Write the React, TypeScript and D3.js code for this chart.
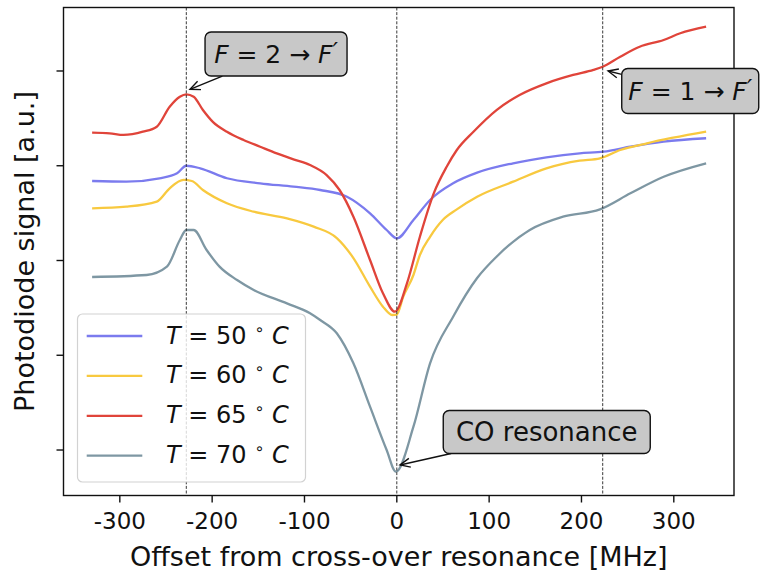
import React from 'react';
import * as d3 from 'd3';

// ---- data (offset in MHz, signal in a.u.) ----
const t50Freq = [-330, -293, -257, -238, -228, -213, -184, -148, -112, -83, -54, -29, -11, 0, 18, 36, 61, 87, 126, 162, 198, 224, 253, 289, 335];
const t50Signal = [3.839, 3.832, 3.868, 3.92, 4.0, 3.973, 3.868, 3.815, 3.779, 3.744, 3.673, 3.498, 3.322, 3.234, 3.427, 3.639, 3.815, 3.927, 4.026, 4.089, 4.131, 4.148, 4.201, 4.254, 4.29];

const t60Freq = [-330, -293, -260, -246, -231, -222, -210, -184, -155, -119, -90, -65, -47, -29, -15, -5, 0, 7, 18, 25, 36, 50, 65, 87, 126, 162, 198, 220, 242, 271, 335];
const t60Signal = [3.551, 3.568, 3.621, 3.762, 3.85, 3.839, 3.744, 3.604, 3.515, 3.445, 3.357, 3.237, 3.026, 2.724, 2.513, 2.425, 2.43, 2.618, 2.847, 3.058, 3.25, 3.43, 3.54, 3.673, 3.832, 3.973, 4.053, 4.079, 4.166, 4.237, 4.359];

const t65Freq = [-330, -311, -296, -275, -260, -246, -235, -228, -220, -210, -199, -184, -166, -148, -130, -112, -94, -76, -62, -47, -29, -15, -2, 11, 25, 40, 54, 65, 83, 108, 133, 162, 191, 213, 223, 242, 263, 289, 307, 335];
const t65Signal = [4.349, 4.342, 4.325, 4.359, 4.412, 4.623, 4.729, 4.754, 4.729, 4.588, 4.46, 4.359, 4.272, 4.201, 4.131, 4.068, 4.008, 3.902, 3.744, 3.462, 3.005, 2.654, 2.46, 2.759, 3.251, 3.709, 3.99, 4.166, 4.359, 4.588, 4.747, 4.87, 4.958, 5.011, 5.045, 5.151, 5.256, 5.327, 5.398, 5.468];

const t70Freq = [-330, -271, -249, -235, -228, -220, -206, -192, -173, -155, -119, -94, -83, -65, -47, -29, -11, -1, 18, 36, 61, 87, 108, 144, 180, 220, 253, 289, 335];
const t70Signal = [2.826, 2.847, 2.935, 3.216, 3.322, 3.322, 3.111, 2.935, 2.794, 2.689, 2.548, 2.443, 2.372, 2.232, 1.915, 1.457, 1.0, 0.771, 1.246, 1.915, 2.407, 2.815, 3.04, 3.322, 3.462, 3.54, 3.709, 3.884, 4.026];

const temperatures = [50, 60, 65, 70];
const xTickValues = [-300, -200, -100, 0, 100, 200, 300];
const yTickValues = [1, 2, 3, 4, 5];
const markerLines = [-228, 0, 223];

const xLabel = 'Offset from cross-over resonance [MHz]';
const yLabel = 'Photodiode signal [a.u.]';

// ---- styles ----
const COLORS = ['#7b7bee', '#f8c93f', '#e0443a', '#7e97a3'];
const FONT = "'DejaVu Sans', sans-serif";
const W = 761;
const H = 576;
const M = { left: 63.5, right: 734, top: 7.5, bottom: 495.5 };

const series = [
  { freq: t50Freq, signal: t50Signal },
  { freq: t60Freq, signal: t60Signal },
  { freq: t65Freq, signal: t65Signal },
  { freq: t70Freq, signal: t70Signal },
];

// annotations: target point and text-box centre, in data coordinates
const annotations = [
  { kind: 'F2', target: [-224, 4.807], at: [-130.8, 5.179], w: 142, h: 44 },
  { kind: 'F1', target: [228.8, 5.0], at: [317.8, 4.789], w: 137, h: 45 },
  { kind: 'CO', target: [3.5, 0.842], at: [162.4, 1.19], w: 207, h: 43 },
];

function clipToBox(cx: number, cy: number, tx: number, ty: number, hw: number, hh: number) {
  const dx = tx - cx;
  const dy = ty - cy;
  const t = Math.min(Math.abs(hw / (dx || 1e-9)), Math.abs(hh / (dy || 1e-9)));
  return [cx + dx * t, cy + dy * t];
}

function AnnText({ kind, x, y }: { kind: string; x: number; y: number }) {
  if (kind === 'CO') {
    return (
      <text x={x} y={y} textAnchor="middle" dominantBaseline="central" fontFamily={FONT} fontSize={26} fill="#111">
        CO resonance
      </text>
    );
  }
  const n = kind === 'F2' ? '2' : '1';
  return (
    <text x={x} y={y + 9} textAnchor="middle" fontFamily={FONT} fontSize={25} fill="#111">
      <tspan fontStyle="italic">F</tspan>
      <tspan> = {n} → </tspan>
      <tspan fontStyle="italic">F</tspan>
      <tspan dy={-3} fontSize={24} fontStyle="italic">′</tspan>
    </text>
  );
}

export default function App() {
  const x = d3.scaleLinear().domain([-361, 365.2]).range([M.left, M.right]);
  const y = d3.scaleLinear().domain([0.52, 5.67]).range([M.bottom, M.top]);

  const line = d3
    .line<[number, number]>()
    .x((d) => x(d[0]))
    .y((d) => y(d[1]))
    .curve(d3.curveMonotoneX);

  const legendX = 77.5;
  const legendY = 314;
  const rowH = 39.9;

  return (
    <svg width={W} height={H} style={{ position: 'absolute', left: 0, top: 0, background: '#fff' }}>
      <rect x={0} y={0} width={W} height={H} fill="#fff" />

      {/* curves */}
      {series.map((s, i) => (
        <path
          key={i}
          d={line(s.freq.map((f, j) => [f, s.signal[j]] as [number, number])) || ''}
          fill="none"
          stroke={COLORS[i]}
          strokeWidth={2.3}
          strokeLinejoin="round"
        />
      ))}

      {/* vertical dashed markers */}
      {markerLines.map((v) => (
        <line key={v} x1={x(v)} x2={x(v)} y1={M.top} y2={M.bottom} stroke="#222" strokeWidth={0.9} strokeDasharray="3,1.6" />
      ))}

      {/* frame */}
      <rect x={M.left} y={M.top} width={M.right - M.left} height={M.bottom - M.top} fill="none" stroke="#111" strokeWidth={1.4} />

      {/* x axis ticks */}
      {xTickValues.map((t) => (
        <g key={t}>
          <line x1={x(t)} x2={x(t)} y1={M.bottom} y2={M.bottom + 7} stroke="#111" strokeWidth={1.4} />
          <text x={x(t)} y={529} textAnchor="middle" fontFamily={FONT} fontSize={23} fill="#111">
            {String(t)}
          </text>
        </g>
      ))}
      {/* y axis ticks (no labels) */}
      {yTickValues.map((t) => (
        <line key={t} x1={M.left - 7} x2={M.left} y1={y(t)} y2={y(t)} stroke="#111" strokeWidth={1.4} />
      ))}

      {/* axis labels */}
      <text x={(M.left + M.right) / 2} y={566} textAnchor="middle" fontFamily={FONT} fontSize={27} fill="#111">
        {xLabel}
      </text>
      <text
        transform={`translate(34, ${(M.top + M.bottom) / 2}) rotate(-90)`}
        textAnchor="middle"
        fontFamily={FONT}
        fontSize={27}
        fill="#111"
      >
        {yLabel}
      </text>

      {/* legend */}
      <rect x={legendX} y={legendY} width={228} height={168} rx={5} fill="#fff" fillOpacity={0.8} stroke="#d2d2d2" strokeWidth={1.2} />
      {temperatures.map((t, i) => {
        const ly = 336 + i * rowH;
        return (
          <g key={t}>
            <line x1={86.7} x2={142.3} y1={ly} y2={ly} stroke={COLORS[i]} strokeWidth={2.3} />
            <text x={166} y={ly + 7.5} fontFamily={FONT} fontSize={24} fill="#111">
              <tspan fontStyle="italic">T</tspan>
              <tspan> = {t} </tspan>
              <tspan dy={-9} fontSize={16}>∘</tspan>
              <tspan dy={9} fontStyle="italic"> C</tspan>
            </text>
          </g>
        );
      })}

      {/* annotations */}
      {annotations.map((a) => {
        const cx = x(a.at[0]);
        const cy = y(a.at[1]);
        const tx = x(a.target[0]);
        const ty = y(a.target[1]);
        const [sx, sy] = clipToBox(cx, cy, tx, ty, a.w / 2, a.h / 2);
        const ang = Math.atan2(ty - sy, tx - sx);
        const hl = 11;
        const spread = 0.42;
        const h1 = [tx - hl * Math.cos(ang - spread), ty - hl * Math.sin(ang - spread)];
        const h2 = [tx - hl * Math.cos(ang + spread), ty - hl * Math.sin(ang + spread)];
        return (
          <g key={a.kind}>
            <line x1={sx} y1={sy} x2={tx} y2={ty} stroke="#111" strokeWidth={1.4} />
            <path d={`M${h1[0]},${h1[1]} L${tx},${ty} L${h2[0]},${h2[1]}`} fill="none" stroke="#111" strokeWidth={1.4} />
            <rect x={cx - a.w / 2} y={cy - a.h / 2} width={a.w} height={a.h} rx={6} fill="#c8c8c8" stroke="#111" strokeWidth={1.4} />
            <AnnText kind={a.kind} x={cx} y={cy} />
          </g>
        );
      })}
    </svg>
  );
}
